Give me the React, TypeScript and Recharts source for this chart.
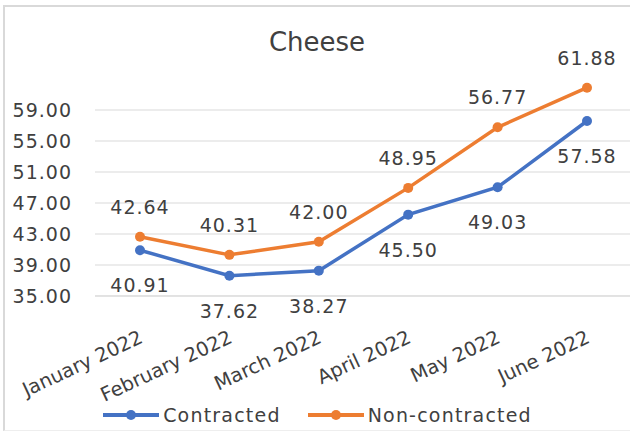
import { LineChart, Line, XAxis, YAxis, CartesianGrid, Legend, LabelList } from "recharts"

const months = ["January 2022", "February 2022", "March 2022", "April 2022", "May 2022", "June 2022"]
const contracted = [40.91, 37.62, 38.27, 45.5, 49.03, 57.58]
const nonContracted = [42.64, 40.31, 42.0, 48.95, 56.77, 61.88]
const yTicks = [35, 39, 43, 47, 51, 55, 59]

const data = months.map((m, i) => ({ month: m, Contracted: contracted[i], "Non-contracted": nonContracted[i] }))

const BLUE = "#4472c4"
const ORANGE = "#ed7d31"
const TEXT = "#404040"
const FONT = "DejaVu Sans"

const MonthTick = ({ x, y, payload }: any) => {
  const x0 = x + 4
  const y0 = y + 44
  return (
    <text
      x={x0}
      y={y0}
      transform={`rotate(-25, ${x0}, ${y0})`}
      textAnchor="end"
      fill={TEXT}
      fontSize={19.5}
      fontFamily={FONT}
    >
      {payload.value}
    </text>
  )
}

const makeLabel = (dy: number) => (props: any) => {
  const { x, y, value } = props
  return (
    <text
      x={x}
      y={y + dy}
      textAnchor="middle"
      dominantBaseline="central"
      fill={TEXT}
      fontSize={19}
      letterSpacing={1}
      fontFamily={FONT}
    >
      {Number(value).toFixed(2)}
    </text>
  )
}

const LegendContent = () => (
  <div style={{ display: "flex", justifyContent: "center", gap: 27, paddingLeft: 5, fontFamily: FONT, fontSize: 19, letterSpacing: 1.2, color: TEXT }}>
    {[
      { name: "Contracted", color: BLUE },
      { name: "Non-contracted", color: ORANGE },
    ].map((item) => (
      <div key={item.name} style={{ display: "flex", alignItems: "center" }}>
        <svg width={56} height={12} style={{ marginRight: 4 }}>
          <line x1={0} y1={6} x2={56} y2={6} stroke={item.color} strokeWidth={4} />
          <circle cx={28} cy={6} r={5} fill={item.color} />
        </svg>
        <span style={{ lineHeight: "24px" }}>{item.name}</span>
      </div>
    ))}
  </div>
)

export default function App() {
  return (
    <div style={{ position: "absolute", left: 0, top: 0, width: 630, height: 432, overflow: "hidden", background: "#fff" }}>
      <div
        style={{
          position: "absolute",
          left: 3,
          top: 5,
          width: 640,
          height: 423,
          borderLeft: "2px solid #d9d9d9",
          borderTop: "2px solid #d9d9d9",
          borderBottom: "1px solid #eeeeee",
        }}
      />
      <div
        style={{
          position: "absolute",
          left: 0,
          top: 29,
          width: 634,
          textAlign: "center",
          fontFamily: FONT,
          fontSize: 26,
          lineHeight: "26px",
          color: TEXT,
        }}
      >
        Cheese
      </div>
      <LineChart width={630} height={432} data={data} margin={{ top: 79, right: 0, left: 0, bottom: 0 }} style={{ position: "absolute", left: 0, top: 0 }}>
        <CartesianGrid vertical={false} stroke="#d9d9d9" horizontalValues={yTicks} />
        <XAxis
          dataKey="month"
          height={136}
          axisLine={{ stroke: "#d9d9d9" }}
          tickLine={false}
          tickSize={0}
          padding={{ left: 45, right: 43 }}
          tick={<MonthTick />}
          interval={0}
        />
        <YAxis
          width={95}
          domain={[35, 63]}
          ticks={yTicks}
          axisLine={false}
          tickLine={false}
          tickSize={0}
          tickMargin={23}
          tickFormatter={(v: number) => v.toFixed(2)}
          tick={{ fill: TEXT, fontSize: 19, fontFamily: FONT, letterSpacing: 1 }}
        />
        <Legend
          verticalAlign="middle"
          align="center"
          content={<LegendContent />}
          wrapperStyle={{ position: "absolute", top: 403, left: 0, width: 630, height: 24 }}
        />
        <Line
          dataKey="Contracted"
          stroke={BLUE}
          strokeWidth={3.5}
          dot={{ r: 5, fill: BLUE, stroke: BLUE, strokeWidth: 0 }}
          activeDot={false}
          isAnimationActive={false}
        >
          <LabelList dataKey="Contracted" content={makeLabel(35)} />
        </Line>
        <Line
          dataKey="Non-contracted"
          stroke={ORANGE}
          strokeWidth={3.5}
          dot={{ r: 5, fill: ORANGE, stroke: ORANGE, strokeWidth: 0 }}
          activeDot={false}
          isAnimationActive={false}
        >
          <LabelList dataKey="Non-contracted" content={makeLabel(-30)} />
        </Line>
      </LineChart>
    </div>
  )
}
